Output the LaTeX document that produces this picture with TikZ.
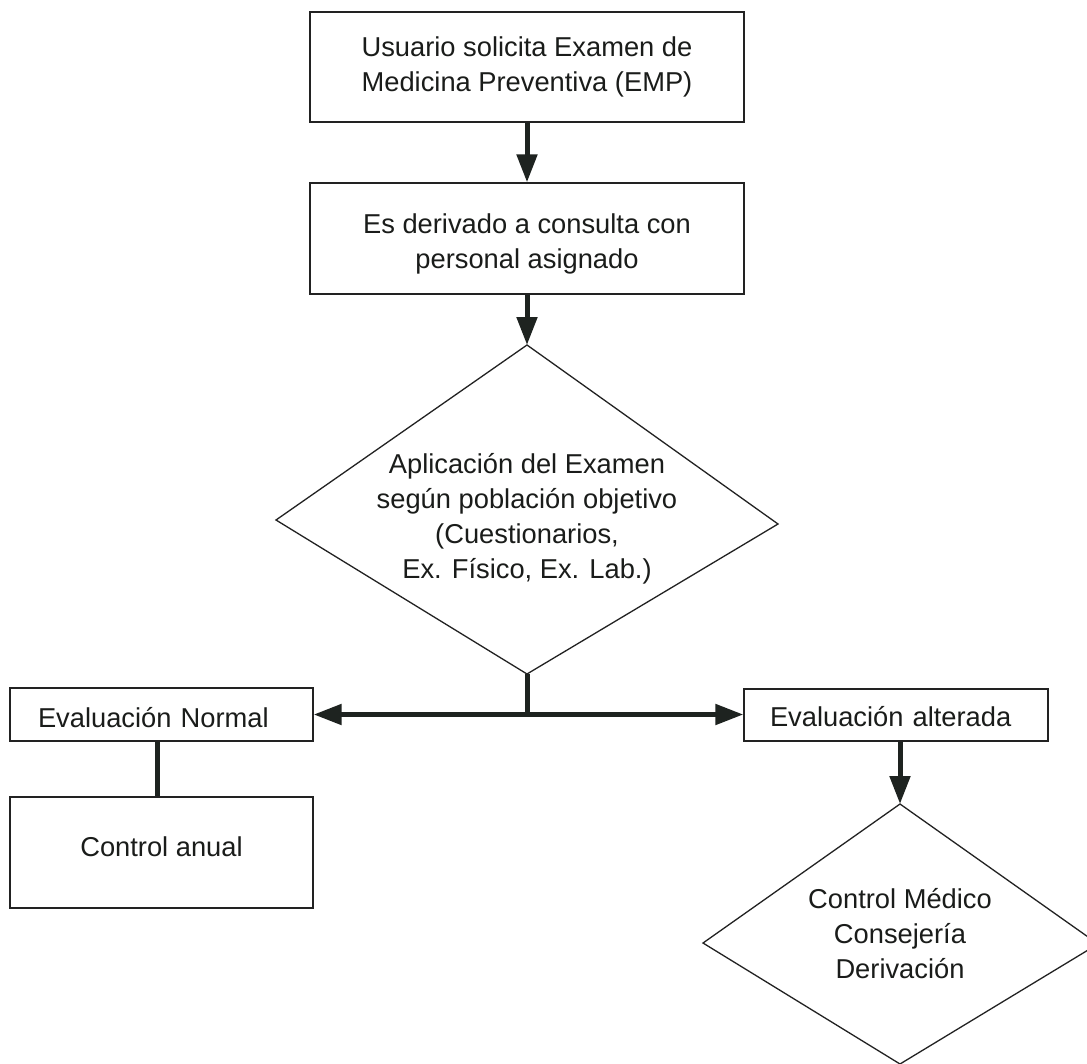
\documentclass[tikz,border=0pt]{standalone}
\usepackage{fontspec}
\setmainfont{Liberation Sans}
\usetikzlibrary{arrows.meta,calc}
\definecolor{ink}{HTML}{222222}
\definecolor{textink}{HTML}{1A1C1A}
\definecolor{arrowink}{HTML}{1E2320}
\newcommand\flowfont{\fontsize{27.3pt}{35pt}\selectfont}
\newcommand\liftby[2]{\raisebox{#1}[\height][\depth]{#2}}
\tikzset{
  box/.style={draw=ink, line width=1.3pt, fill=white, text=textink, align=center, inner sep=0pt, font=\flowfont},
  shapeline/.style={draw=ink, line width=1.3pt, line join=miter},
  txt/.style={text=textink, align=center, font=\flowfont, inner sep=0pt},
  flow/.style={draw=arrowink, line width=5pt, -{Triangle[length=28pt,width=20pt]}},
  link/.style={draw=arrowink, line width=5pt},
}
\begin{document}
\begin{tikzpicture}[x=1pt,y=-1pt]
\useasboundingbox (0,0) rectangle (1087,1063);
\clip (0,0) rectangle (1087,1063);
\fill[white] (0,0) rectangle (1087,1063);

% boxes
\node[box, minimum width=434, minimum height=110] (b1) at (527,67) {Usuario solicita Examen de\\Medicina Preventiva (EMP)};
\node[box, minimum width=434, minimum height=111] (b2) at (527,238.5) {\liftby{-5pt}{\begin{tabular}{@{}c@{}}Es derivado a consulta con\\personal asignado\end{tabular}}};

% decision 1
\coordinate (d1t) at (527,345);
\coordinate (d1r) at (778,524);
\coordinate (d1b) at (527,674);
\coordinate (d1l) at (276,520);
\draw[shapeline] (d1t) -- (d1r) -- (d1b) -- (d1l) -- cycle;
\node[txt] (d1txt) at (527,519) {Aplicación del Examen\\según población objetivo\\(Cuestionarios,\\Ex. Físico, Ex. Lab.)};

% outcomes
\node[box, minimum width=303, minimum height=53, text width=247, align=left] (norm) at (161.5,714.5) {\liftby{-3pt}{Evaluación Normal}};
\node[box, minimum width=303, minimum height=111] (ctrl) at (161.5,852.5) {\liftby{6pt}{Control anual}};
\node[box, minimum width=304, minimum height=52, text width=252, align=left] (alt) at (896,715) {\liftby{-2pt}{Evaluación alterada}};

% decision 2
\coordinate (d2t) at (900,804);
\coordinate (d2r) at (1098,944);
\coordinate (d2b) at (900,1064);
\coordinate (d2l) at (703,943);
\draw[shapeline] (d2t) -- (d2r) -- (d2b) -- (d2l) -- cycle;
\node[txt] (d2txt) at (900,934) {Control Médico\\Consejería\\Derivación};

% connectors
\draw[flow] (b1.south) -- (b2.north);
\draw[flow] (b2.south) -- (d1t);
\coordinate (j) at (d1b |- norm.east);
\draw[link] (d1b) -- (j);
\draw[flow] (j) -- (norm.east);
\draw[flow] (j) -- (j -| alt.west);
\draw[link] ([xshift=-4.5pt]norm.south) -- ([xshift=-4.5pt]ctrl.north);
\draw[flow] (alt.south -| d2t) -- (d2t);
\end{tikzpicture}
\end{document}
